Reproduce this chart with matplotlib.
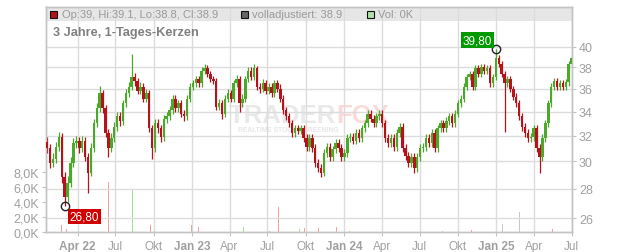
import matplotlib
matplotlib.use("Agg")
import matplotlib.pyplot as plt
import matplotlib.dates as mdates
from matplotlib.patches import Rectangle
import numpy as np
import pandas as pd

plt.rcParams['font.family'] = ['Liberation Sans', 'DejaVu Sans']

# Weekly candles (open = previous close)
first_open = 31.5
closes = [31.0, 29.9, 30.2, 31.1, 31.9, 28.8, 27.4, 28.4, 29.9, 31.4,
          31.6, 31.0, 31.6, 30.3, 29.1, 31.0, 33.0, 34.3, 35.6, 34.3,
          32.2, 31.0, 31.8, 32.7, 33.6, 33.2, 34.7, 35.6, 36.2, 37.1,
          36.7, 35.8, 36.2, 35.1, 35.6, 32.6, 31.0, 33.0, 32.6, 31.9,
          33.4, 33.6, 34.1, 35.1, 34.3, 34.7, 33.8, 33.6, 35.1, 36.2,
          36.5, 36.9, 36.5, 37.7, 37.9, 37.4, 36.9, 36.7, 34.4, 34.7,
          33.8, 35.1, 35.6, 35.1, 36.5, 36.9, 34.7, 35.1, 36.9, 37.7,
          37.1, 37.9, 36.2, 36.0, 36.5, 35.8, 36.2, 35.6, 36.5, 36.0,
          35.1, 34.1, 33.6, 33.0, 32.2, 32.6, 32.4, 32.6, 31.8, 31.1,
          31.8, 31.0, 29.9, 29.5, 29.1, 30.6, 31.1, 30.3, 30.9, 31.4,
          31.0, 30.3, 30.6, 31.8, 31.9, 31.6, 32.2, 31.8, 32.6, 33.0,
          33.8, 33.4, 33.0, 33.6, 33.8, 33.0, 31.8, 31.4, 31.8, 31.1,
          32.2, 32.7, 31.0, 30.4, 29.9, 30.3, 29.5, 30.3, 31.0, 31.1,
          31.8, 31.4, 32.2, 31.0, 32.6, 33.0, 32.6, 33.2, 33.6, 33.0,
          33.8, 34.7, 35.1, 36.2, 37.1, 37.4, 36.2, 37.9, 37.4, 38.0,
          37.7, 37.9, 36.5, 37.1, 38.9, 38.3, 37.4, 36.5, 36.9, 36.0,
          35.3, 34.7, 33.6, 32.7, 32.2, 31.8, 31.9, 32.6, 31.0, 30.3,
          31.8, 33.0, 34.7, 36.2, 36.7, 36.2, 36.5, 36.2, 36.6, 38.3,
          38.9]
highs = [31.9, 31.3, 30.6, 31.5, 32.3, 32.2, 29.2, 28.9, 30.3, 31.8,
         32.0, 31.9, 32.0, 31.9, 30.6, 31.4, 33.4, 34.7, 36.3, 35.9,
         34.6, 32.5, 32.2, 33.1, 34.0, 34.0, 35.0, 36.0, 36.6, 39.3,
         37.5, 37.0, 36.6, 36.5, 36.0, 35.9, 32.9, 33.4, 33.4, 32.9,
         33.7, 34.0, 34.5, 35.4, 35.4, 35.0, 35.0, 34.1, 35.4, 36.5,
         36.8, 37.2, 37.2, 38.0, 38.3, 38.2, 37.7, 37.2, 37.0, 35.1,
         35.0, 35.4, 36.0, 35.9, 36.8, 37.3, 37.2, 35.5, 37.2, 38.0,
         38.0, 38.3, 38.1, 36.5, 36.9, 36.8, 36.5, 36.5, 36.8, 36.8,
         36.4, 35.4, 34.4, 33.9, 33.3, 32.9, 32.9, 32.9, 32.9, 32.1,
         32.1, 32.1, 31.3, 30.2, 29.8, 30.9, 31.4, 31.4, 31.2, 31.7,
         31.7, 31.3, 30.9, 32.1, 32.2, 32.2, 32.5, 32.5, 32.9, 33.3,
         34.1, 34.1, 33.7, 33.9, 34.1, 34.1, 33.3, 32.1, 32.1, 32.1,
         32.5, 33.0, 33.0, 31.3, 30.7, 30.6, 30.6, 30.6, 31.3, 31.4,
         32.1, 32.1, 32.5, 32.5, 32.9, 33.3, 33.3, 33.5, 33.9, 33.9,
         34.1, 35.0, 35.4, 36.5, 37.4, 37.7, 37.7, 38.2, 38.2, 38.3,
         38.3, 38.2, 38.2, 37.4, 39.8, 39.2, 38.6, 37.7, 37.2, 37.2,
         36.3, 35.6, 35.0, 33.9, 33.0, 32.5, 32.2, 32.9, 32.9, 31.3,
         32.1, 33.3, 35.0, 36.5, 37.0, 37.0, 36.8, 36.8, 36.9, 38.6,
         39.1]
lows = [30.6, 29.5, 29.6, 29.9, 30.8, 28.4, 26.8, 27.1, 28.1, 29.6,
        31.0, 30.6, 30.7, 30.0, 27.7, 28.9, 30.7, 32.7, 34.0, 33.9,
        31.9, 30.3, 30.7, 31.5, 32.4, 32.8, 32.9, 34.4, 35.3, 35.9,
        36.3, 35.5, 35.5, 34.8, 34.8, 32.3, 30.2, 30.7, 32.2, 31.5,
        31.6, 33.0, 33.3, 33.8, 34.0, 34.0, 33.5, 33.2, 33.3, 34.8,
        35.9, 36.2, 36.2, 36.2, 37.4, 37.1, 36.6, 36.4, 34.1, 34.1,
        33.4, 33.5, 34.8, 34.8, 34.8, 36.2, 34.0, 34.4, 34.8, 36.6,
        36.8, 36.8, 35.9, 35.6, 35.7, 35.5, 35.5, 35.3, 35.3, 35.7,
        34.8, 33.8, 33.3, 32.7, 31.9, 31.9, 32.1, 32.1, 31.5, 30.8,
        30.8, 30.7, 29.6, 29.2, 28.8, 28.9, 30.3, 30.0, 30.0, 30.6,
        30.7, 30.0, 30.0, 30.3, 31.5, 31.3, 31.3, 31.5, 31.5, 32.3,
        32.7, 33.1, 32.7, 32.7, 33.3, 32.7, 31.5, 31.1, 31.1, 30.8,
        30.8, 31.9, 30.7, 30.1, 29.6, 29.6, 29.1, 29.2, 30.0, 30.7,
        30.8, 31.1, 31.1, 30.7, 30.7, 32.3, 32.3, 32.3, 32.9, 32.7,
        32.7, 33.5, 34.4, 34.8, 35.9, 36.8, 35.9, 35.9, 37.1, 37.1,
        37.4, 37.4, 36.2, 36.2, 36.8, 38.0, 37.1, 32.3, 36.2, 35.7,
        35.0, 34.4, 33.3, 32.4, 31.9, 31.5, 31.5, 31.6, 30.7, 29.1,
        30.0, 31.5, 32.7, 34.4, 35.9, 35.9, 35.9, 35.9, 35.9, 36.3,
        38.0]
candle_dates = pd.date_range('2022-01-18', periods=len(closes), freq='7D')

# Volume spikes (most days are ~0)
vol_dates = ['2022-02-21', '2022-03-05', '2022-06-14', '2022-08-10', '2022-09-23',
             '2022-12-08', '2022-12-30', '2023-01-16', '2023-02-18', '2023-04-07',
             '2023-04-19', '2023-05-04', '2023-07-07', '2023-07-27', '2023-09-17',
             '2023-09-29', '2023-10-31', '2023-12-15', '2024-01-06', '2024-01-15',
             '2024-08-25', '2024-11-03', '2025-01-16', '2025-02-26', '2025-05-16']
vol_values = [1000, 400, 6700, 5700, 1000,
              400, 900, 700, 300, 400,
              500, 700, 200, 3300, 400,
              600, 500, 700, 900, 100,
              100, 300, 1100, 2700, 400]
vol_kind = ['down', 'down', 'down', 'up', 'down',
            'down', 'down', 'down', 'up', 'down',
            'down', 'up', 'down', 'down', 'up',
            'down', 'down', 'down', 'up', 'up',
            'flat', 'down', 'flat', 'flat', 'down']

price_ticks = [26, 28, 30, 32, 34, 36, 38, 40]
vol_ticks = [0, 2000, 4000, 6000, 8000]
vol_labels = ['0,0K', '2,0K', '4,0K', '6,0K', '8,0K']
quarter_dates = ['2022-04-01', '2022-07-01', '2022-10-01', '2023-01-01', '2023-04-01',
                 '2023-07-01', '2023-10-01', '2024-01-01', '2024-04-01', '2024-07-01',
                 '2024-10-01', '2025-01-01', '2025-04-01', '2025-07-01']
quarter_labels = ['Apr 22', 'Jul', 'Okt', 'Jan 23', 'Apr', 'Jul', 'Okt', 'Jan 24',
                  'Apr', 'Jul', 'Okt', 'Jan 25', 'Apr', 'Jul']

UP = '#4ba82b'
DOWN = '#b5121b'
GRID = '#dcdcdc'
SPINE = '#c4c4c4'
LABEL = '#a0a0a0'

opens = [first_open] + closes[:-1]
x = mdates.date2num(candle_dates)

fig = plt.figure(figsize=(6.32, 2.53), dpi=100)
ax = fig.add_axes([46 / 632, 20 / 253, 526 / 632, 225 / 253])
ax2 = ax.twinx()


def px(xp, yp):
    # pixel position -> axes fraction
    return (xp - 46) / 526, (233 - yp) / 225


# header band
ax.add_patch(Rectangle((0, 1 - 14 / 225), 1, 14 / 225, transform=ax.transAxes,
                       facecolor='#e6e6e6', edgecolor='none', zorder=0.2))

# watermark
wx, wy = px(336, 116)
ax.text(wx, wy, 'TRADER', transform=ax.transAxes, ha='right', va='center',
        fontsize=18.5, fontweight='bold', color='#e9e9e9', zorder=0.3)
ax.text(wx, wy, 'FOX', transform=ax.transAxes, ha='left', va='center',
        fontsize=18.5, fontweight='bold', color='#fbdada', zorder=0.3)
sx, sy = px(238, 130)
ax.text(sx, sy, 'REALTIME STOCK SCREENING', transform=ax.transAxes, ha='left',
        va='center', fontsize=4.8, fontweight='bold', color='#e6e6e6', zorder=0.3)

# volume
vol_colors = {'down': '#f2a0a6', 'up': '#a6dc9a', 'flat': '#c8c8c8'}
ax.bar(mdates.date2num(pd.to_datetime(vol_dates)), vol_values, width=2.0,
       color=[vol_colors[k] for k in vol_kind], zorder=1)
ax.set_ylim(0, 30000)
ax.set_yticks(vol_ticks)
ax.set_yticklabels(vol_labels)

# candles
cols = [UP if c >= o else DOWN for o, c in zip(opens, closes)]
bottoms = [min(o, c) for o, c in zip(opens, closes)]
heights = [max(abs(c - o), 0.05) for o, c in zip(opens, closes)]
ax2.vlines(x, lows, highs, colors=cols, linewidth=0.9, zorder=2)
ax2.bar(x, heights, bottom=bottoms, width=6.0, color=cols, zorder=3)

ax2.set_yscale('log')
ax2.set_ylim(25.10, 44.24)
ax2.yaxis.set_minor_locator(matplotlib.ticker.NullLocator())
ax2.set_yticks(price_ticks)
ax2.set_yticklabels([str(t) for t in price_ticks])
ax.set_xlim(mdates.datestr2num('2022-01-15'), mdates.datestr2num('2025-07-02'))

ax.set_xticks(mdates.date2num(pd.to_datetime(quarter_dates)))
ax.set_xticklabels(quarter_labels)
for lab in ax.get_xticklabels():
    if ' ' in lab.get_text():
        lab.set_fontweight('bold')

# grid
ax.set_axisbelow(True)
ax2.set_axisbelow(True)
ax.xaxis.grid(True, color=GRID, linewidth=1.0)
ax2.yaxis.grid(True, color=GRID, linewidth=1.0)

for a in (ax, ax2):
    for s in a.spines.values():
        s.set_color(SPINE)
        s.set_linewidth(1.0)

ax.tick_params(axis='x', labelsize=8.5, labelcolor=LABEL, color=SPINE, length=3, pad=3)
ax.tick_params(axis='y', labelsize=9, labelcolor=LABEL, color=SPINE, length=3, pad=2)
ax2.tick_params(axis='y', labelsize=9, labelcolor=LABEL, color=SPINE, length=3, pad=2)

# high / low markers
hi = int(np.argmax(highs))
lo = int(np.argmin(lows))
for idx, val, off, bg in [(hi, highs[hi], (-13.5, 6.3), '#009a00'),
                          (lo, lows[lo], (14.0, -7.5), '#d00000')]:
    ax2.plot(x[idx], val, 'o', mfc='none', mec='#222222', ms=6, mew=1.0,
             zorder=6, clip_on=False)
    ax2.annotate(f'{val:.2f}'.replace('.', ','), (x[idx], val), xytext=off,
                 textcoords='offset points', ha='center', va='center',
                 color='white', fontsize=8.5, zorder=7,
                 bbox=dict(boxstyle='square,pad=0.15', fc=bg, ec='none'))

# header legend
def header_box(xp, color):
    fig.add_artist(Rectangle((xp / 632, 1 - 19 / 253), 7 / 632, 7 / 253,
                             transform=fig.transFigure, facecolor=color,
                             edgecolor='#111111', linewidth=0.8))


header_box(50, DOWN)
fig.text(62 / 632, 1 - 15.5 / 253, 'Op:39, Hi:39.1, Lo:38.8, Cl:38.9',
         fontsize=8, color='#999999', va='center')
header_box(241, '#666666')
fig.text(252 / 632, 1 - 15.5 / 253, 'volladjustiert: 38.9',
         fontsize=8, color='#999999', va='center')
header_box(367, '#b3e0a8')
fig.text(378 / 632, 1 - 15.5 / 253, 'Vol: 0K',
         fontsize=8, color='#999999', va='center')

fig.text(53 / 632, 1 - 33 / 253, '3 Jahre, 1-Tages-Kerzen', fontsize=9.2,
         fontweight='bold', color='#808080', va='center')

fig.savefig('out.png', dpi=100)
